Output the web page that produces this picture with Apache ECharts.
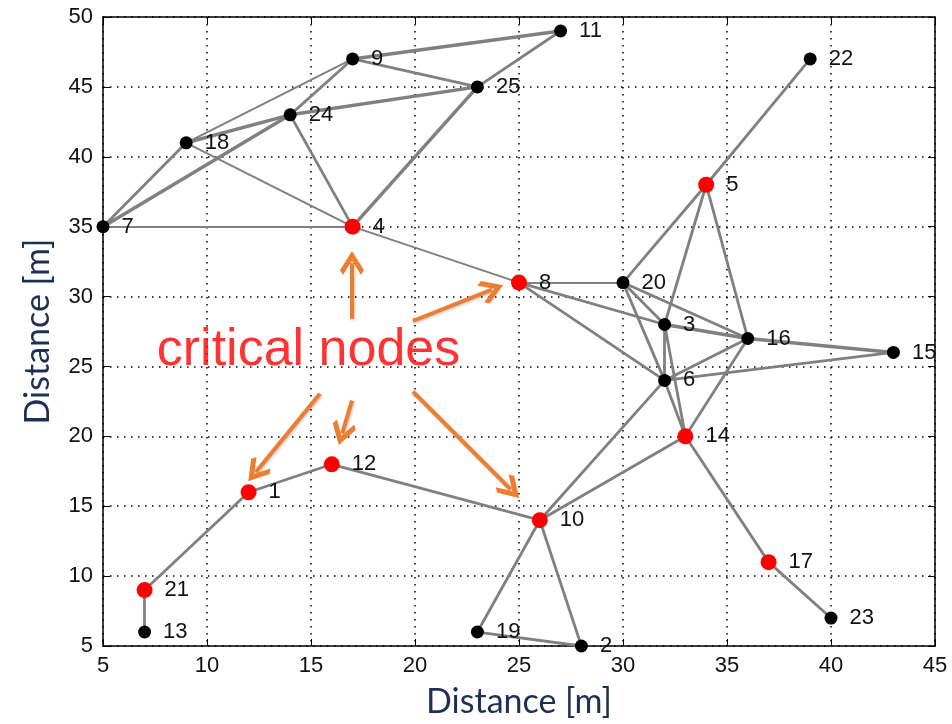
<!DOCTYPE html>
<html>
<head>
<meta charset="utf-8">
<script src="https://cdn.jsdelivr.net/npm/echarts@6/dist/echarts.min.js"></script>
<style>
html,body{margin:0;padding:0;background:#fff;}
#chart{width:952px;height:724px;}
</style>
</head>
<body>
<div id="chart"></div>
<script>
// ---- data ----
const nodeIds = [1,2,3,4,5,6,7,8,9,10,11,12,13,14,15,16,17,18,19,20,21,22,23,24,25];
const nodeX   = [12,28,32,17,34,32,5,25,17,26,27,16,7,33,43,36,37,9,23,30,7,39,40,14,23];
const nodeY   = [16,5,28,35,38,24,35,31,47,14,49,18,6,20,26,27,11,41,6,31,9,47,7,43,45];
const criticalNodes = [1,4,5,8,10,12,14,17,21];
const edges = [
  [7,18],[7,24],[7,4],[18,24],[18,9],[18,4],[24,9],[24,25],[24,4],
  [9,11],[9,25],[25,11],[25,4],[4,8],[22,5],
  [5,20],[5,3],[5,16],[8,20],[8,3],[8,6],[20,16],[20,3],[20,6],
  [3,16],[3,6],[3,14],[6,14],[6,16],[6,15],[16,15],[16,14],
  [6,10],[10,14],[10,12],[12,1],[1,21],[21,13],[10,19],[10,2],[19,2],
  [14,17],[17,23]
];
const thickEdges = [[9,11],[25,4],[7,24],[18,24],[3,16],[16,15],[24,25]];
const thinEdges  = [[7,4],[18,4],[4,8],[8,20],[18,9]];
const annotationText = 'critical nodes';
const annotationPos = [14.88, 26.1];
// arrows: [fromX, fromY, toX, toY] in data units
const arrows = [
  [16.97,28.4,16.97,32.4],
  [19.9,28.25,23.7,30.5],
  [15.43,23.05,12.35,17.45],
  [16.97,22.55,16.5,20.2],
  [19.9,23.2,24.6,16.2]
];

const hasEdge = (list,a,b)=>list.some(e=>(e[0]===a&&e[1]===b)||(e[0]===b&&e[1]===a));

const nodes = nodeIds.map((id,i)=>({
  name:String(id),
  value:[nodeX[i],nodeY[i]],
  itemStyle:{color: criticalNodes.includes(id)?'#ff0000':'#000000'},
  symbolSize: criticalNodes.includes(id)?16:13
}));
const links = edges.map(e=>({
  source:String(e[0]), target:String(e[1]),
  lineStyle:{width: hasEdge(thickEdges,e[0],e[1])?3.5:(hasEdge(thinEdges,e[0],e[1])?2:2.8)}
}));

const chart = echarts.init(document.getElementById('chart'));
const axisFont = {fontFamily:'Liberation Sans, Arial, sans-serif', fontSize:22, color:'#111'};
const titleFont = {fontFamily:'Lato, sans-serif', fontSize:34, color:'#1c2f55'};
const chevron = 'path://M10,0 L20,10 L17.5,12.5 L10,5 L2.5,12.5 L0,10 Z';

chart.setOption({
  backgroundColor:'#fff',
  animation:false,
  grid:{left:103,right:17,top:17,bottom:76},
  xAxis:[{
    type:'value',min:5,max:45,interval:5,
    name:'Distance [m]',nameLocation:'middle',nameGap:39,nameTextStyle:titleFont,
    axisLine:{show:true,lineStyle:{color:'#000',width:1.5}},
    axisTick:{show:true,inside:true,length:7,lineStyle:{color:'#000'}},
    axisLabel:Object.assign({margin:9},axisFont),
    splitLine:{show:true,lineStyle:{color:'#000',type:[1.5,5.5],width:1.5}}
  },{
    type:'value',min:5,max:45,interval:5,position:'top',
    axisLine:{show:true,onZero:false,lineStyle:{color:'#000',width:1.5}},
    axisTick:{show:true,inside:true,length:7,lineStyle:{color:'#000'}},
    axisLabel:{show:false},splitLine:{show:false}
  }],
  yAxis:[{
    type:'value',min:5,max:50,interval:5,
    name:'Distance [m]',nameLocation:'middle',nameGap:48,nameTextStyle:titleFont,
    axisLine:{show:true,lineStyle:{color:'#000',width:1.5}},
    axisTick:{show:true,inside:true,length:7,lineStyle:{color:'#000'}},
    axisLabel:Object.assign({margin:10},axisFont),
    splitLine:{show:true,lineStyle:{color:'#000',type:[1.5,5.5],width:1.5}}
  },{
    type:'value',min:5,max:50,interval:5,position:'right',
    axisLine:{show:true,onZero:false,lineStyle:{color:'#000',width:1.5}},
    axisTick:{show:true,inside:true,length:7,lineStyle:{color:'#000'}},
    axisLabel:{show:false},splitLine:{show:false}
  }],
  series:[{
    type:'graph',
    coordinateSystem:'cartesian2d',
    xAxisIndex:0,yAxisIndex:0,
    symbol:'circle',
    data:nodes,
    links:links,
    lineStyle:{color:'#808080',opacity:1,width:2.8},
    label:{show:true,position:'right',distance:12,formatter:'{b}',
      fontFamily:'Liberation Sans, Arial, sans-serif',fontSize:22,color:'#111'},
    emphasis:{disabled:true},
    z:3
  },{
    type:'lines',
    coordinateSystem:'cartesian2d',
    xAxisIndex:0,yAxisIndex:0,
    symbol:['none',chevron],
    symbolSize:[0,24],
    lineStyle:{color:'#ed7d31',width:4,opacity:1,shadowColor:'rgba(0,0,0,0.25)',shadowBlur:3,shadowOffsetX:1,shadowOffsetY:1},
    data:arrows.map(a=>({coords:[[a[0],a[1]],[a[2],a[3]]]})),
    z:4
  },{
    type:'scatter',
    xAxisIndex:0,yAxisIndex:0,
    symbolSize:0,
    data:[annotationPos],
    label:{show:true,position:'inside',formatter:annotationText,
      fontFamily:'Liberation Sans, Arial, sans-serif',fontSize:52,color:'#ff0000'},
    z:5,
    silent:true
  }]
});
</script>
</body>
</html>
